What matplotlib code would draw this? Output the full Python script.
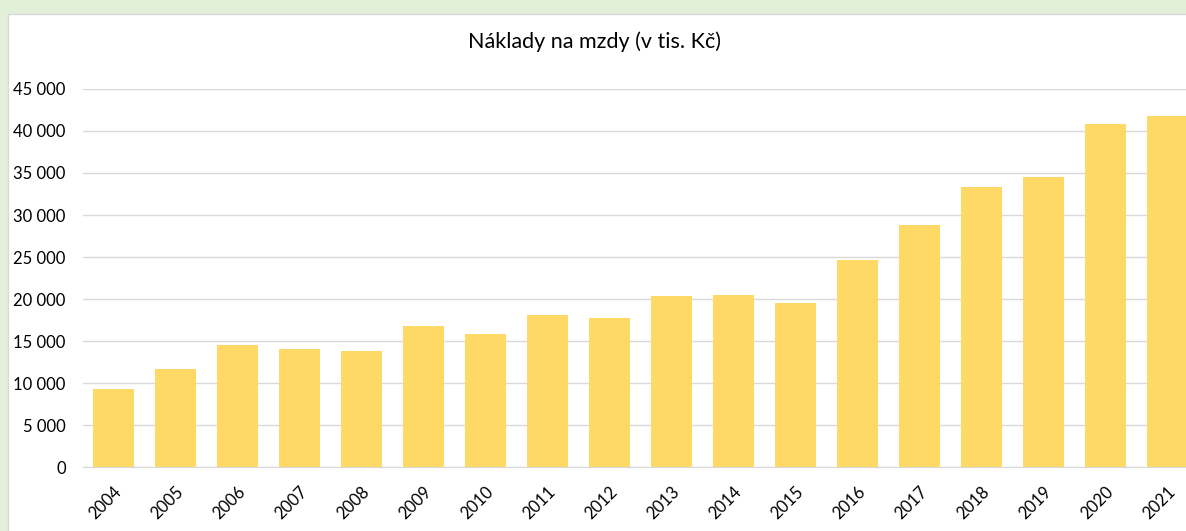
import matplotlib.pyplot as plt
from matplotlib.patches import Rectangle
from matplotlib.ticker import FuncFormatter

# Wage costs per year (thousand CZK)
years = [str(y) for y in range(2004, 2022)]
costs = [9300, 11700, 14500, 14000, 13850, 16800, 15800, 18100, 17750,
         20400, 20500, 19550, 24650, 28850, 33300, 34550, 40800, 41800]

plt.rcParams['font.family'] = ['Lato', 'DejaVu Sans']

fig = plt.figure(figsize=(11.86, 5.31), dpi=100)
fig.patch.set_facecolor('#e2efd9')

# white chart panel (behind the axes)
fig.patches.append(Rectangle((8 / 1186, -0.1), 1.2, (531 - 14) / 531 + 0.1,
                             transform=fig.transFigure, facecolor='white',
                             edgecolor='#d9d9d9', linewidth=1, zorder=-5))

ax = fig.add_axes([82.5 / 1186, 64 / 531, 1116 / 1186, 378 / 531])
ax.set_facecolor('none')
x = range(len(years))
ax.bar(x, costs, width=0.66, color='#ffd966', zorder=2)

ax.set_xlim(-0.5, len(years) - 0.5)
ax.set_ylim(0, 45000)
ax.set_yticks(range(0, 45001, 5000))
ax.yaxis.set_major_formatter(FuncFormatter(lambda v, p: f"{int(v):,}".replace(",", " ")))
ax.set_xticks(list(x))
ax.set_xticklabels(years, rotation=45, ha='right', rotation_mode='anchor')

ax.grid(axis='y', color='#d9d9d9', linewidth=1, zorder=0)
ax.set_axisbelow(True)
for s in ['top', 'right', 'left']:
    ax.spines[s].set_visible(False)
ax.spines['bottom'].set_color('#d9d9d9')
ax.tick_params(axis='both', length=0, labelsize=12, colors='#000000')
ax.tick_params(axis='y', pad=12)
ax.tick_params(axis='x', pad=12)

fig.text(595 / 1186, 1 - 42 / 531, "Náklady na mzdy (v tis. Kč)",
         ha='center', va='center', fontsize=15.5)

fig.savefig('out.png', dpi=100, facecolor=fig.get_facecolor())
